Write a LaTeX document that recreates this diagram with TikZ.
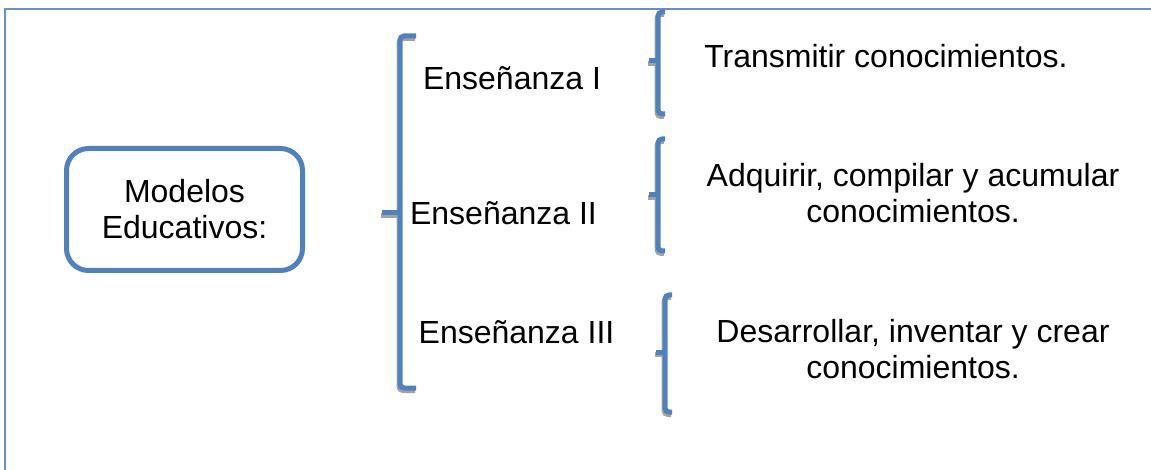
\documentclass[tikz,border=0pt]{standalone}
\usepackage{fontspec}
\setmainfont{Liberation Sans}
\definecolor{bracketblue}{HTML}{4F81BD}
\definecolor{frameblue}{HTML}{6A8FC8}
\definecolor{shadowgray}{HTML}{A3A3A3}

% A square bracket opening to the right, with a short tick on its left side.
% #1 x of the bar, #2 top y, #3 tick y, #4 bottom y, #5 serif end x, #6 tick end x
\newcommand\drawbrace[6]{%
  \draw[braceline, draw=shadowgray, shift={(-1,2.5)}] (#5,#2) -- (#1,#2) -- (#1,#4) -- (#5,#4);
  \draw[braceline, draw=shadowgray, shift={(-1,2.5)}] (#1,#3) -- (#6,#3);
  \draw[braceline] (#5,#2) -- (#1,#2) -- (#1,#4) -- (#5,#4);
  \draw[braceline] (#1,#3) -- (#6,#3);
}

\begin{document}
\begin{tikzpicture}[x=1pt, y=-1pt,
  lbl/.style={font=\fontsize{32}{36}\selectfont, inner sep=0pt, align=center},
  braceline/.style={draw=bracketblue, line width=5pt, rounded corners=4pt},
  rootbox/.style={draw=bracketblue, line width=5pt, rounded corners=22pt,
    minimum width=236pt, minimum height=122pt, inner sep=0pt, align=center,
    font=\fontsize{32}{36}\selectfont}]
\useasboundingbox (0,0) rectangle (1151,470);

% outer frame (only its left and top sides lie inside the page)
\draw[frameblue, line width=1.6pt] (5,475) -- (5,9) -- (1160,9);

% root
\node[rootbox] (root) at (184.5,209.5) {Modelos\\Educativos:};

% main bracket
\drawbrace{400}{36}{213}{388}{416}{382}

% second-level labels
\node[lbl, anchor=base] (e1) at (512,90) {Enseñanza I};
\node[lbl, anchor=base] (e2) at (503.5,225) {Enseñanza II};
\node[lbl, anchor=base] (e3) at (516.5,343) {Enseñanza III};

% small brackets
\drawbrace{658}{12}{61}{114}{665}{649}
\drawbrace{658}{139}{195}{251}{665}{649}
\drawbrace{665}{295}{352}{412}{672}{656}

% descriptions (base anchor sits on the last line)
\node[lbl, anchor=base] (d1) at (886,68) {Transmitir conocimientos.};
\node[lbl, anchor=base] (d2) at (913,223) {Adquirir, compilar y acumular\\conocimientos.};
\node[lbl, anchor=base] (d3) at (913,378) {Desarrollar, inventar y crear\\conocimientos.};
\end{tikzpicture}
\end{document}
